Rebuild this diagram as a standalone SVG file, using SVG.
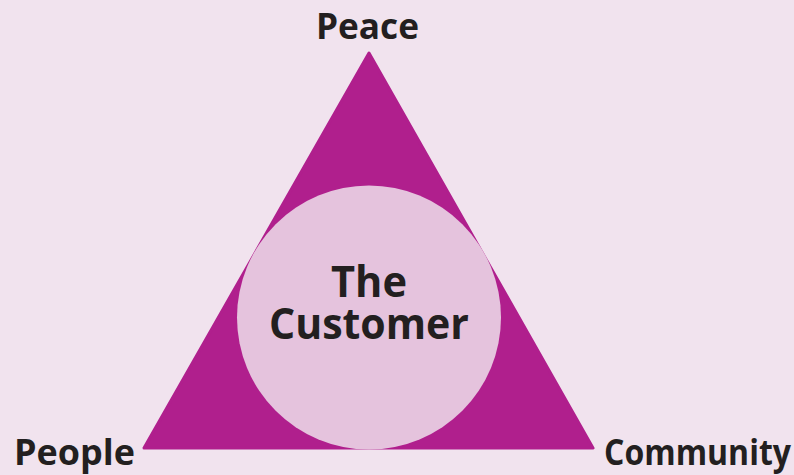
<svg xmlns="http://www.w3.org/2000/svg" width="794" height="475" viewBox="0 0 794 475">
<style>
.lbl{font-family:"Open Sans","Noto Sans","Liberation Sans",sans-serif;font-weight:bold;fill:#231f20;}
</style>
<rect width="794" height="475" fill="#f1e3ee"/>
<g id="triangle">
<path d="M369,53 L593,448 L144,448 Z" fill="#b01f8d" stroke="#b01f8d" stroke-width="3" stroke-linejoin="round"/>
</g>
<g id="customer">
<circle cx="369" cy="317.5" r="132" fill="#e5c3dd"/>
<text class="lbl" x="369" y="297" font-size="43" text-anchor="middle" textLength="76" lengthAdjust="spacingAndGlyphs">The</text>
<text class="lbl" x="369" y="339" font-size="43" text-anchor="middle" textLength="200" lengthAdjust="spacingAndGlyphs">Customer</text>
</g>
<g id="peace"><text class="lbl" x="316" y="39" font-size="36" textLength="103" lengthAdjust="spacingAndGlyphs">Peace</text></g>
<g id="people"><text class="lbl" x="14" y="465" font-size="35" textLength="121" lengthAdjust="spacingAndGlyphs">People</text></g>
<g id="community"><text class="lbl" x="604" y="465" font-size="35" textLength="187" lengthAdjust="spacingAndGlyphs">Community</text></g>
</svg>
